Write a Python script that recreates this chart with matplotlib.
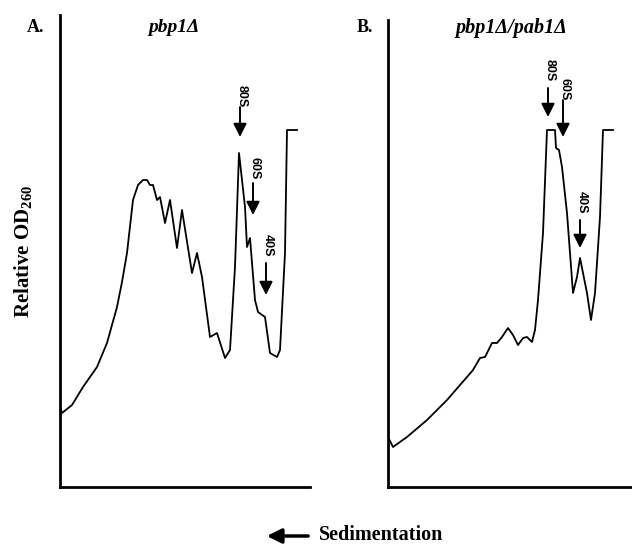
import matplotlib
matplotlib.use("Agg")
import matplotlib.pyplot as plt
from matplotlib.patches import FancyArrowPatch

# Panel A: pbp1 delta profile (position along gradient, relative OD260)
pos_a = [0, 2, 12, 23, 37, 47, 57, 62, 67, 73, 78, 83, 87, 90, 93, 97, 100, 105,
         110, 117, 122, 132, 137, 142, 150, 157, 165, 170, 175, 179, 185, 187,
         190, 195, 198, 205, 210, 217, 220, 225, 227, 237]
od_a = [80, 74, 82, 100, 120, 144, 180, 205, 234, 287, 302, 307, 307, 302, 302,
        287, 290, 264, 287, 239, 277, 214, 234, 210, 150, 154, 129, 137, 220,
        334, 280, 240, 249, 187, 175, 170, 134, 130, 137, 234, 357, 357]

# Panel B: pbp1 delta / pab1 delta profile
pos_b = [0, 5, 19, 39, 59, 79, 85, 92, 97, 104, 109, 114, 120, 125, 130, 135,
         139, 144, 147, 150, 155, 159, 167, 168, 171, 174, 179, 185, 189, 192,
         195, 199, 203, 207, 212, 215, 225]
od_b = [50, 40, 50, 67, 87, 110, 117, 129, 130, 144, 144, 150, 159, 152, 142,
        149, 150, 145, 157, 187, 254, 357, 357, 339, 337, 320, 274, 194, 210,
        229, 214, 194, 167, 194, 270, 357, 357]

# peak markers: (label, position, arrow tail, arrow head, label centre)
peaks_a = [("80S", 180, 380, 350, 391),
           ("60S", 193, 304, 272, 319),
           ("40S", 206, 224, 192, 242)]
peaks_b = [("80S", 160, 399, 370, 417),
           ("60S", 175, 387, 350, 398),
           ("40S", 192, 267, 239, 285)]

serif = "Liberation Serif"
plt.rcParams["mathtext.fontset"] = "custom"
plt.rcParams["mathtext.rm"] = "Liberation Serif:bold"

fig = plt.figure(figsize=(6.32, 5.45), dpi=100)
ax_a = fig.add_axes([60 / 632, 58 / 545, 250 / 632, 472 / 545])
ax_b = fig.add_axes([388 / 632, 58 / 545, 244 / 632, 467 / 545])


def draw_panel(ax, pos, od, peaks, ymax):
    ax.plot(pos, od, color="black", lw=1.3)
    ax.set_xlim(0, ax.get_position().width * 632)
    ax.set_ylim(0, ymax)
    for side in ["top", "right"]:
        ax.spines[side].set_visible(False)
    for side in ["left", "bottom"]:
        ax.spines[side].set_linewidth(2)
    ax.set_xticks([])
    ax.set_yticks([])
    for label, x, tail, head, ytxt in peaks:
        ax.annotate("", xy=(x, head), xytext=(x, tail),
                    arrowprops=dict(arrowstyle="-|>", color="black", lw=1.4,
                                    mutation_scale=20, shrinkA=0, shrinkB=0))
        ax.text(x + 2, ytxt, label, rotation=-90, ha="center", va="center",
                fontsize=9, fontweight="bold", family="Liberation Sans")


draw_panel(ax_a, pos_a, od_a, peaks_a, 472)
draw_panel(ax_b, pos_b, od_b, peaks_b, 467)

ax_a.set_ylabel("Relative OD$_{\\mathrm{260}}$", fontsize=15, fontweight="bold",
                family=serif, labelpad=18)

fig.text(27 / 632, 1 - 27 / 545, "A.", fontsize=13, fontweight="bold",
         family=serif, va="center")
fig.text(174 / 632, 1 - 27 / 545, "pbp1\u0394", fontsize=14, fontweight="bold",
         style="italic", family=serif, ha="center", va="center")
fig.text(357 / 632, 1 - 27 / 545, "B.", fontsize=13, fontweight="bold",
         family=serif, va="center")
fig.text(511 / 632, 1 - 28 / 545, "pbp1\u0394/pab1\u0394", fontsize=14.5,
         fontweight="bold", style="italic", family=serif, ha="center",
         va="center")

# sedimentation direction arrow
fig.patches.append(FancyArrowPatch(
    (311 / 632, 1 - 536 / 545), (264 / 632, 1 - 536 / 545),
    transform=fig.transFigure, arrowstyle="-|>", mutation_scale=22,
    lw=2.5, color="black"))
fig.text(319 / 632, 1 - 540 / 545, "Sedimentation", fontsize=14.5,
         fontweight="bold", family=serif, va="baseline")

fig.savefig("out.png", dpi=100)
